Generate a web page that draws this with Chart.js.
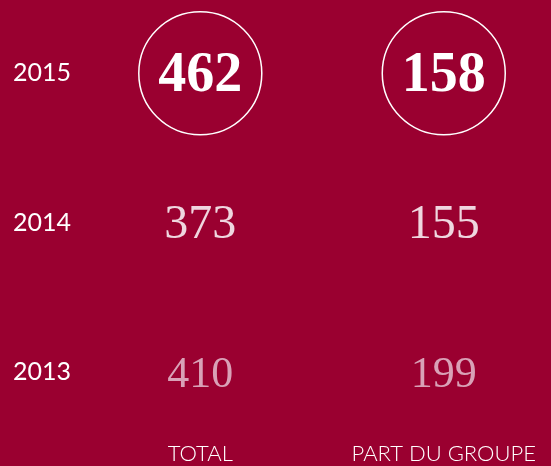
<!DOCTYPE html>
<html>
<head>
<meta charset="utf-8">
<script src="https://cdn.jsdelivr.net/npm/chart.js@4/dist/chart.umd.min.js"></script>
<style>
  html, body { margin: 0; padding: 0; background: #9a0030; }
  #wrap { width: 551px; height: 466px; position: relative; }
</style>
</head>
<body>
<div id="wrap"><canvas id="chart"></canvas></div>
<script>
const years = ["2015", "2014", "2013"];
const categories = ["TOTAL", "PART DU GROUPE"];
const totalValues = [462, 373, 410];
const groupValues = [158, 155, 199];

// look of each row, newest first
const rowFonts = ["bold 56px 'Liberation Serif'", "48px 'Liberation Serif'", "44px 'Liberation Serif'"];
const rowColors = ["#ffffff", "#efd6df", "#d9a1b7"];

function buildPoints(values, col) {
  return values.map((v, i) => ({ x: col, y: i, r: i === 0 ? 61.5 : 0, v: v }));
}

// write the value in the middle of each point
const valueLabels = {
  id: "valueLabels",
  afterDatasetsDraw(chart) {
    const ctx = chart.ctx;
    ctx.save();
    ctx.textAlign = "center";
    ctx.textBaseline = "middle";
    chart.data.datasets.forEach((ds, di) => {
      chart.getDatasetMeta(di).data.forEach((el, i) => {
        ctx.font = rowFonts[i];
        ctx.fillStyle = rowColors[i];
        ctx.fillText(ds.data[i].v, el.x, el.y + 3);
      });
    });
    ctx.restore();
  }
};

const pointStyle = {
  backgroundColor: "rgba(0,0,0,0)",
  borderColor: "#ffffff",
  borderWidth: 1.5,
  hoverRadius: 0,
  hoverBorderWidth: 1.5,
  clip: false
};

new Chart(document.getElementById("chart"), {
  type: "bubble",
  data: {
    datasets: [
      Object.assign({ label: categories[0], data: buildPoints(totalValues, 0) }, pointStyle),
      Object.assign({ label: categories[1], data: buildPoints(groupValues, 1) }, pointStyle)
    ]
  },
  options: {
    responsive: true,
    maintainAspectRatio: false,
    animation: false,
    events: [],
    layout: { autoPadding: false, padding: { left: 13, right: 0, top: 0, bottom: 0 } },
    plugins: { legend: { display: false }, tooltip: { enabled: false } },
    scales: {
      x: {
        type: "linear",
        min: -0.453,
        max: 1.4286,
        afterFit(scale) { scale.height = 40; },
        afterBuildTicks(scale) { scale.ticks = categories.map((c, i) => ({ value: i })); },
        grid: { display: false, drawTicks: false },
        border: { display: false },
        ticks: {
          padding: 15,
          color: "#ffffff",
          font: { family: "Lato", size: 22, weight: 300 },
          maxRotation: 0,
          autoSkip: false,
          callback: (v) => categories[v]
        }
      },
      y: {
        type: "linear",
        reverse: true,
        min: -0.39,
        max: 2.359,
        afterFit(scale) { scale.width = 77; },
        afterBuildTicks(scale) { scale.ticks = years.map((y, i) => ({ value: i })); },
        grid: { display: false, drawTicks: false },
        border: { display: false },
        ticks: {
          crossAlign: "far",
          padding: 0,
          color: "#ffffff",
          font: { family: "Lato", size: 25 },
          autoSkip: false,
          callback: (v) => years[v]
        }
      }
    }
  },
  plugins: [valueLabels]
});
</script>
</body>
</html>
